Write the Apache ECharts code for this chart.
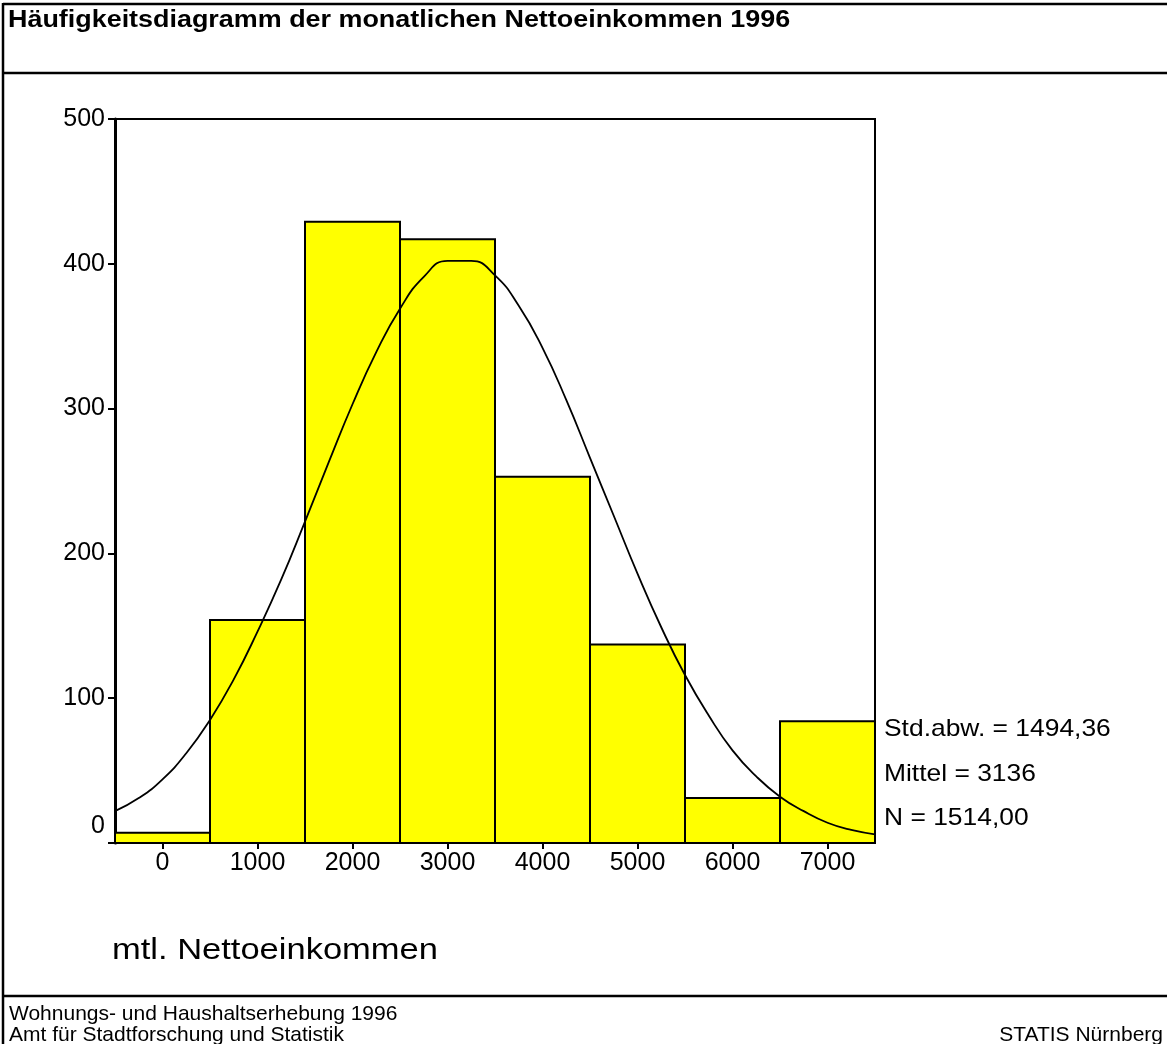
<!DOCTYPE html>
<html><head><meta charset="utf-8">
<script src="https://cdn.jsdelivr.net/npm/echarts@6/dist/echarts.min.js"></script>
<style>html,body{margin:0;padding:0;background:#fff}#c{width:1167px;height:1044px}</style>
</head><body><div id="c"></div>
<script>
// Data
const binCenters = [0, 1000, 2000, 3000, 4000, 5000, 6000, 7000];
const binWidth = 1000;
const counts = [7, 154, 429, 417, 253, 137, 31, 84];
const curveX = [-500,-250,0,250,500,750,1000,1250,1500,1750,2000,2250,2500,2750,3000,3250,3500,3750,4000,4250,4500,4750,5000,5250,5500,5750,6000,6250,6500,6750,7000,7250,7500];
const curveY = [22,31,44,62,85,113,146,182,222,263,303,339,369,391,402,402,392,371,342,306,266,226,186,149,116,88,64,46,32,22,14,9,6];
const xTicks = [0,1000,2000,3000,4000,5000,6000,7000];
const statsText = ['Std.abw. = 1494,36', 'Mittel = 3136', 'N = 1514,00'];
const titleText = 'Häufigkeitsdiagramm der monatlichen Nettoeinkommen 1996';
const xName = 'mtl. Nettoeinkommen';
const footer1 = 'Wohnungs- und Haushaltserhebung 1996';
const footer2 = 'Amt für Stadtforschung und Statistik';
const footer3 = 'STATIS Nürnberg';

const FONT = 'Liberation Sans, Arial, sans-serif';
const chart = echarts.init(document.getElementById('c'));
const barData = binCenters.map((c, i) => [c, counts[i]]);
const lineData = curveX.map((x, i) => [x, curveY[i]]);

function txt(t, x, y, font, sx, align) {
  return { type: 'text', x: x, y: y, scaleX: sx, originX: 0, originY: 0,
    style: { text: t, font: font, fill: '#000', verticalAlign: 'middle', align: align || 'left' } };
}

chart.setOption({
  animation: false,
  grid: { left: 115, top: 119, width: 760, height: 724, show: true, borderColor: '#000', borderWidth: 2, backgroundColor: 'transparent' },
  xAxis: {
    type: 'value', min: -500, max: 7500,
    splitLine: { show: false },
    axisLine: { show: true, onZero: false, lineStyle: { color: '#000', width: 2 } },
    axisTick: { show: true, length: 6, lineStyle: { color: '#000', width: 2 }, customValues: xTicks },
    axisLabel: { color: '#000', fontSize: 25, fontFamily: FONT, margin: 8, customValues: xTicks, formatter: v => String(v) }
  },
  yAxis: {
    type: 'value', min: 0, max: 500, interval: 100,
    splitLine: { show: false },
    axisLine: { show: true, onZero: false, lineStyle: { color: '#000', width: 3 } },
    axisTick: { show: true, length: 7, lineStyle: { color: '#000', width: 2 } },
    axisLabel: {
      color: '#000', fontSize: 25, fontFamily: FONT, margin: 10,
      formatter: v => v === 0 ? '{z|0}' : String(v),
      rich: { z: { fontSize: 25, fontFamily: FONT, color: '#000', padding: [0, 0, 34, 0] } }
    }
  },
  series: [
    {
      type: 'custom',
      data: barData,
      renderItem: function (params, api) {
        const c = api.value(0), v = api.value(1);
        const p0 = api.coord([c - binWidth / 2, v]);
        const p1 = api.coord([c + binWidth / 2, 0]);
        return {
          type: 'rect',
          shape: { x: p0[0], y: p0[1], width: p1[0] - p0[0], height: p1[1] - p0[1] },
          style: { fill: '#FFFF00', stroke: '#000', lineWidth: 2 }
        };
      },
      z: 2
    },
    {
      type: 'line',
      data: lineData,
      smooth: true,
      showSymbol: false,
      lineStyle: { color: '#000', width: 1.8 },
      z: 3
    }
  ],
  graphic: [
    { type: 'line', shape: { x1: 3, y1: 4, x2: 1167, y2: 4 }, style: { stroke: '#000', lineWidth: 2.5 } },
    { type: 'line', shape: { x1: 3, y1: 3, x2: 3, y2: 1044 }, style: { stroke: '#000', lineWidth: 2.5 } },
    { type: 'line', shape: { x1: 3, y1: 73, x2: 1167, y2: 73 }, style: { stroke: '#000', lineWidth: 2.5 } },
    { type: 'line', shape: { x1: 3, y1: 996, x2: 1167, y2: 996 }, style: { stroke: '#000', lineWidth: 2.5 } },
    txt(titleText, 8, 21, 'bold 23px ' + FONT, 1.17),
    txt(statsText[0], 884, 729, '24px ' + FONT, 1.10),
    txt(statsText[1], 884, 774, '24px ' + FONT, 1.10),
    txt(statsText[2], 884, 818, '24px ' + FONT, 1.10),
    txt(xName, 112, 951, '30px ' + FONT, 1.15),
    txt(footer1, 9, 1014, '21px ' + FONT, 1.0),
    txt(footer2, 9, 1035, '21px ' + FONT, 1.0),
    txt(footer3, 1163, 1035, '21px ' + FONT, 1.0, 'right')
  ]
});
</script></body></html>
